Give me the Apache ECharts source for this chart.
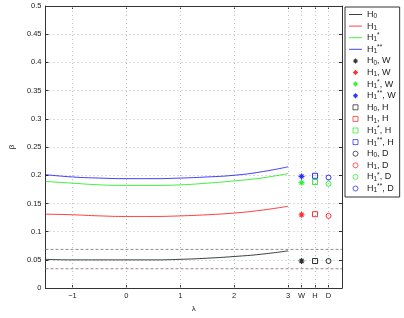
<!DOCTYPE html>
<html><head><meta charset="utf-8">
<script src="https://cdn.jsdelivr.net/npm/echarts@6/dist/echarts.min.js"></script>
<style>html,body{margin:0;padding:0;background:#fff}#c{width:404px;height:318px}</style>
</head><body><div id="c"></div>
<script>
const lambda = [-1.5, -1, -0.5, 0, 0.5, 1, 1.5, 2, 2.5, 3];
const h0   = [0.051, 0.050, 0.050, 0.050, 0.050, 0.051, 0.053, 0.056, 0.060, 0.066];
const h1   = [0.131, 0.130, 0.128, 0.127, 0.127, 0.128, 0.130, 0.133, 0.138, 0.145];
const h1s  = [0.189, 0.186, 0.183, 0.182, 0.182, 0.183, 0.186, 0.190, 0.195, 0.203];
const h1ss = [0.201, 0.197, 0.195, 0.194, 0.194, 0.195, 0.197, 0.200, 0.206, 0.215];
const hypNames = ['H0', 'H1', 'H1*', 'H1**'];
const hypColors = ['#000000', '#ff0000', '#00ee00', '#0000ff'];
const testNames = ['W', 'H', 'D'];
const testPos = [3.25, 3.5, 3.75];
const wVals = [0.048, 0.130, 0.187, 0.198];
const hVals = [0.048, 0.131, 0.188, 0.199];
const dVals = [0.048, 0.128, 0.185, 0.196];
const refLevels = [0.0343, 0.0686];
const xTicks = [-1, 0, 1, 2, 3];

const ASTER = 'path://M0,4L10,4L10,6L0,6Z M4,0L6,0L6,10L4,10Z M1,2.4L2.4,1L9,7.6L7.6,9Z M7.6,1L9,2.4L2.4,9L1,7.6Z';
const SQUARE = 'path://M0,0L10,0L10,10L0,10Z';
const CIRCLE = 'path://M10,5A5,5,0,1,1,0,5A5,5,0,1,1,10,5Z';
const LINEICON = 'path://M0,0L13,0L13,1L0,1Z';
const testSymbols = [ASTER, SQUARE, CIRCLE];
const testVals = [wVals, hVals, dVals];

const series = [];
const legendData = [];
const hypCurves = [h0, h1, h1s, h1ss];
hypNames.forEach((n, i) => {
  series.push({
    name: n, type: 'line', smooth: true, showSymbol: false, symbol: 'none',
    data: lambda.map((x, k) => [x, hypCurves[i][k]]),
    lineStyle: { color: hypColors[i], width: 0.9, opacity: 0.85 }, itemStyle: { color: hypColors[i] },
    z: 5
  });
  legendData.push({ name: n, icon: LINEICON, itemStyle: { color: hypColors[i], opacity: 0.75 } });
});
testNames.forEach((t, j) => {
  hypNames.forEach((n, i) => {
    const nm = n + ', ' + t;
    const filled = j === 0;
    series.push({
      name: nm, type: 'scatter', symbol: testSymbols[j], symbolSize: j === 0 ? 6 : 5,
      data: [[testPos[j], testVals[j][i]]],
      itemStyle: filled ? { color: hypColors[i] } : { color: 'rgba(255,255,255,0)', borderColor: hypColors[i], borderWidth: 1 },
      z: 6
    });
    legendData.push(filled ? { name: nm } : { name: nm, itemStyle: { borderWidth: 0.8, opacity: 0.8 } });
  });
});
// reference levels
refLevels.forEach((v) => {
  series.push({
    type: 'line', symbol: 'none', silent: true,
    data: [[-1.5, v], [4, v]],
    lineStyle: { color: '#9a8a8a', width: 1, type: [3, 2] }, z: 3
  });
});
// vertical grid lines
series.push({
  type: 'line', data: [], silent: true,
  markLine: {
    silent: true, symbol: 'none', label: { show: false },
    lineStyle: { color: '#bbbbbb', width: 1, type: [1, 3] },
    data: xTicks.concat(testPos).map(v => ({ xAxis: v }))
  }
});

function fmtName(name) {
  const m = name.match(/^H(\d)(\**)(.*)$/);
  let s = '{t|H}{sub|' + m[1] + '}';
  if (m[2]) s += '{sup|' + m[2] + '}';
  if (m[3]) s += '{t|' + m[3] + '}';
  return s;
}

const allTickVals = xTicks.concat(testPos);
const chart = echarts.init(document.getElementById('c'), null, { renderer: 'canvas' });
chart.setOption({
  animation: false,
  backgroundColor: '#fff',
  textStyle: { fontFamily: 'Liberation Sans, Arial, sans-serif' },
  grid: { left: 31, right: 62, top: 6, bottom: 23, show: false },
  xAxis: [{
    type: 'value', min: -1.5, max: 4,
    name: 'λ', nameLocation: 'middle', nameGap: 16,
    nameTextStyle: { fontSize: 8, color: '#222' },
    axisLine: { show: true, onZero: false, lineStyle: { color: '#333', width: 1 } },
    axisTick: { show: true, inside: true, length: 3, customValues: allTickVals, lineStyle: { color: '#333' } },
    axisLabel: { customValues: allTickVals, fontSize: 7.5, color: '#222', margin: 4,
      formatter: v => { const k = testPos.indexOf(v); return k >= 0 ? testNames[k] : String(v).replace('-', '−'); } },
    splitLine: { show: false }
  }, {
    type: 'value', min: -1.5, max: 4, position: 'top',
    axisLine: { show: true, onZero: false, lineStyle: { color: '#333', width: 1 } },
    axisTick: { show: true, inside: true, length: 3, customValues: allTickVals, lineStyle: { color: '#333' } },
    axisLabel: { show: false }, splitLine: { show: false }
  }],
  yAxis: [{
    type: 'value', min: 0, max: 0.5, interval: 0.05,
    name: 'β', nameLocation: 'middle', nameGap: 26, nameRotate: 90,
    nameTextStyle: { fontSize: 8, color: '#222' },
    axisLine: { show: true, onZero: false, lineStyle: { color: '#333', width: 1 } },
    axisTick: { show: true, inside: true, length: 3, lineStyle: { color: '#333' } },
    axisLabel: { fontSize: 7.5, color: '#222', margin: 4 },
    splitLine: { show: true, lineStyle: { color: '#bbbbbb', width: 1, type: [1, 3] } }
  }, {
    type: 'value', min: 0, max: 0.5, interval: 0.05, position: 'right',
    axisLine: { show: true, onZero: false, lineStyle: { color: '#333', width: 1 } },
    axisTick: { show: true, inside: true, length: 3, lineStyle: { color: '#333' } },
    axisLabel: { show: false }, splitLine: { show: false }
  }],
  legend: {
    orient: 'vertical', left: 345, top: 7,
    padding: [2, 4, 3, 4],
    itemWidth: 13, itemHeight: 5, itemGap: 0.6,
    backgroundColor: '#fff', borderColor: '#333', borderWidth: 1, borderRadius: 0,
    data: legendData,
    formatter: fmtName,
    selectedMode: false,
    textStyle: {
      color: '#222',
      rich: {
        t: { fontSize: 9, color: '#222', lineHeight: 10 },
        sub: { fontSize: 6.5, color: '#222', padding: [4, 0, 0, 0], lineHeight: 7 },
        sup: { fontSize: 6.5, color: '#222', padding: [0, 0, 4, 0], lineHeight: 7 }
      }
    }
  },
  series: series
});
</script></body></html>
